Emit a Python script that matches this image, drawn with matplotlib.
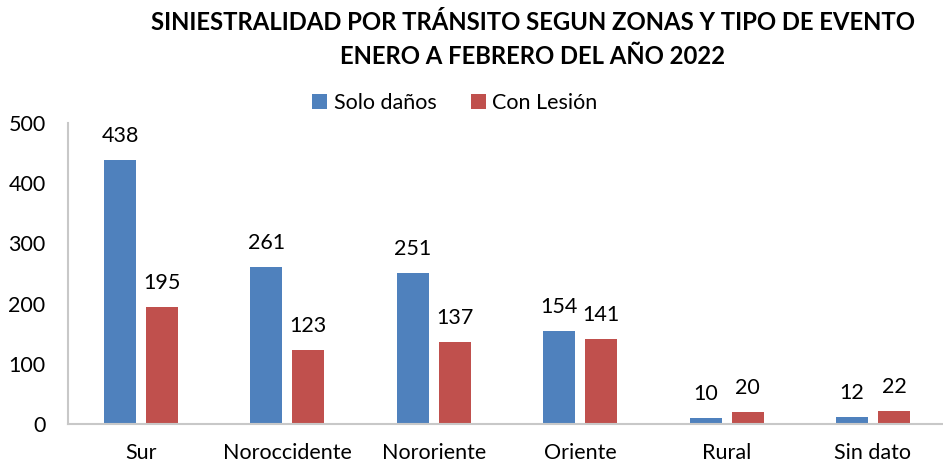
import numpy as np
import matplotlib.pyplot as plt

plt.rcParams['font.family'] = ['Lato', 'DejaVu Sans']

zonas = ['Sur', 'Noroccidente', 'Nororiente', 'Oriente', 'Rural', 'Sin dato']
solo_danos = [438, 261, 251, 154, 10, 12]
con_lesion = [195, 123, 137, 141, 20, 22]

azul = '#4f81bd'
rojo = '#c0504d'

fig = plt.figure(figsize=(9.43, 4.65), dpi=100)
ax = fig.add_axes([67.8 / 943, 41 / 465, 878.4 / 943, 301 / 465])

x = np.arange(len(zonas))
w = 0.219
off = 0.1435
b1 = ax.bar(x - off, solo_danos, w, color=azul, label='Solo daños')
b2 = ax.bar(x + off, con_lesion, w, color=rojo, label='Con Lesión')

# etiquetas de valor sobre cada barra
for bars in (b1, b2):
    for r in bars:
        ax.annotate(str(int(r.get_height())), (r.get_x() + r.get_width() / 2, r.get_height()),
                    xytext=(0, 10), textcoords='offset points', ha='center', va='bottom',
                    fontsize=15.5)

ax.set_xlim(-0.5, len(zonas) - 0.5)
ax.set_ylim(0, 500)
ax.set_yticks(range(0, 501, 100))
ax.set_xticks(x)
ax.set_xticklabels(zonas)
ax.tick_params(axis='both', length=0, labelsize=15.5)
ax.tick_params(axis='y', pad=16)
ax.tick_params(axis='x', pad=14)
for s in ['top', 'right']:
    ax.spines[s].set_visible(False)
for s in ['left', 'bottom']:
    ax.spines[s].set_color('#c8c8c8')
    ax.spines[s].set_linewidth(1.5)

fig.legend(loc='center', bbox_to_anchor=(455 / 943, 1 - 103 / 465), ncol=2, frameon=False,
           fontsize=15.5, handlelength=0.7, handleheight=0.7, handletextpad=0.3, columnspacing=1.6)

fig.text(533 / 943, 1 - 22 / 465, 'SINIESTRALIDAD POR TRÁNSITO SEGUN ZONAS Y TIPO DE EVENTO',
         ha='center', va='center', fontsize=17.2, fontweight='bold')
fig.text(533 / 943, 1 - 57 / 465, 'ENERO A FEBRERO DEL AÑO 2022',
         ha='center', va='center', fontsize=17.2, fontweight='bold')

fig.savefig('out.png', dpi=100)
